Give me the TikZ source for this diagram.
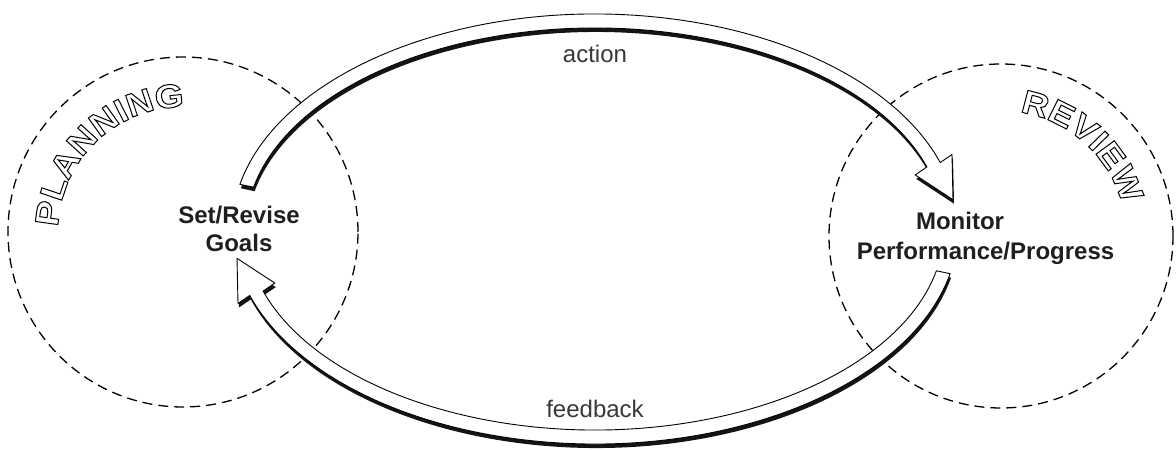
\documentclass[tikz,border=0pt]{standalone}
\usepackage{fontspec}
\setmainfont{Liberation Sans}
\newfontfamily\planfont[FakeStretch=1.12]{Liberation Sans}
\newcommand\outletter[1]{\special{pdf:literal direct 2 Tr 1 w 1 g 0 G}#1\special{pdf:literal direct 0 Tr 0 g 0 G}}
\newcommand\actionpath{(239.9,265.7) arc[start angle=168,end angle=18,x radius=363,y radius=215] -- (952,295.5) -- (953,250.3) -- (915.2,275.1) -- (926.9,283.1) arc[start angle=18,end angle=168,x radius=349,y radius=201] -- cycle}
\newcommand\feedbackpath{(950.1,176.3) arc[start angle=-12,end angle=-162,x radius=363,y radius=215] -- (238,146.5) -- (237,191.7) -- (274.8,166.9) -- (263.1,158.9) arc[start angle=-162,end angle=-12,x radius=349,y radius=201] -- cycle}
\begin{document}
\begin{tikzpicture}[x=1pt,y=1pt,
  zone/.style={draw=black, line width=1.3pt, dash pattern=on 10pt off 6pt},
  fatarrow/.style={fill=white, draw=black, line width=0.9pt, line join=miter},
  arrowshadow/.style={fill=black!92},
  boldlabel/.style={font=\fontsize{24}{28}\selectfont\bfseries, text=black!88, inner sep=0pt},
  flowlabel/.style={font=\fontsize{24}{28}\selectfont, text=black!78, inner sep=0pt},
  zonetitle/.style={font=\planfont\fontsize{33}{36}\selectfont\bfseries, inner sep=0pt, anchor=base}]
\useasboundingbox (0,0) rectangle (1176,450);
\draw[zone] (183,218) circle[radius=175];
\draw[zone] (1001,214) circle[radius=172];
\begin{scope}[shift={(1,-4)}]
\fill[arrowshadow] \actionpath;
\fill[arrowshadow] \feedbackpath;
\end{scope}
\draw[fatarrow] \actionpath;
\draw[fatarrow] \feedbackpath;
\node[boldlabel, align=center] (goals) at (239,221.5) {Set/Revise\\Goals};
\node[boldlabel, anchor=base] (monitor) at (960,220) {Monitor};
\node[boldlabel, anchor=base] (progress) at (985.5,190) {Performance/Progress};
\node[flowlabel, anchor=base] (action) at (595,387) {action};
\node[flowlabel, anchor=base] (feedback) at (595,32) {feedback};
\foreach \ch/\ang [count=\i] in {P/172.09, L/161.27, A/149.97, N/137.74, N/125.50, I/117.03, N/108.56, G/95.86}
  \node[zonetitle, rotate=\ang-90, name=plan\i] at ([shift={(\ang:125)}]183,218) {\outletter{\ch}};
\foreach \ch/\ang [count=\i] in {R/75.29, E/63.52, V/52.23, I/44.22, E/36.22, W/22.57}
  \node[zonetitle, rotate=\ang-90, name=review\i] at ([shift={(\ang:125)}]1001,214) {\outletter{\ch}};
\end{tikzpicture}
\end{document}
